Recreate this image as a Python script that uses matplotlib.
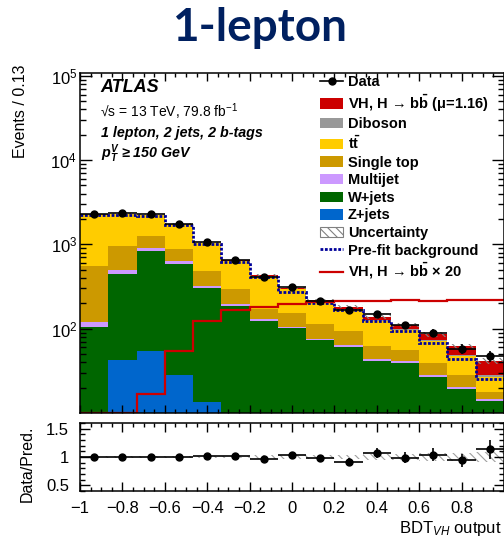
import numpy as np
import matplotlib
matplotlib.use("Agg")
import matplotlib.pyplot as plt
from matplotlib.patches import Patch
from matplotlib.lines import Line2D
from matplotlib.ticker import (MultipleLocator, FixedLocator, FixedFormatter, LogLocator,
                               NullFormatter, LogFormatterSciNotation)

plt.rcParams['font.family'] = ['Liberation Sans', 'DejaVu Sans']
plt.rcParams['mathtext.fontset'] = 'custom'
plt.rcParams['mathtext.rm'] = 'Liberation Sans'
plt.rcParams['mathtext.it'] = 'Liberation Sans:italic'
plt.rcParams['mathtext.bf'] = 'Liberation Sans:bold'
plt.rcParams['mathtext.sf'] = 'Liberation Sans:bold:italic'
plt.rcParams['hatch.linewidth'] = 0.8

# BDT_VH output binning: 15 bins between -1 and 1
edges = np.linspace(-1, 1, 16)

# Post-fit yields per bin
zjets = [4, 42, 55, 28, 13.5, 6, 4, 3, 2.5, 2, 1.5, 1.2, 1.0, 0.8, 0.6]
wjets = [102, 406, 777, 550, 292, 178, 118, 98, 70, 59, 40, 38, 26, 18.7, 13.4]
multijet = [13, 50, 70, 50, 17, 11, 7, 5, 4, 3, 2, 2.5, 1.2, 0.9, 0.7]
singletop = [443, 456, 343, 243, 155, 102, 42, 46, 37, 31, 19, 14, 11, 8, 3]
ttbar = [1713, 1362, 1008, 891, 560, 335, 245, 140, 90, 72, 61, 40, 32, 18.6, 9.3]
diboson = [3, 4, 5, 5, 5, 4, 4, 4, 4, 4, 3, 3, 2.5, 2, 1.5]
vh = [0.2, 0.4, 1.0, 3.2, 7.2, 9.6, 10.6, 11.4, 12.1, 12.2, 12.5, 12.7, 12.5, 12.8, 12.9]

data = [2280, 2335, 2270, 1765, 1065, 662, 415, 316, 214, 166, 150, 110, 90, 58, 47]
prefit_bkg = [2240, 2250, 2150, 1720, 1025, 620, 410, 272, 202, 166, 123, 93, 68, 44, 25]
vh_x20 = [4, 7, 17, 55, 124, 166, 183, 197, 208, 211, 216, 219, 216, 221, 222]
rel_unc = [0.02, 0.02, 0.02, 0.02, 0.02, 0.025, 0.03, 0.03, 0.035, 0.04, 0.05, 0.06, 0.065, 0.07, 0.08]

x_ticks = [-1, -0.8, -0.6, -0.4, -0.2, 0, 0.2, 0.4, 0.6, 0.8, 1]
x_ticklabels = ['\u22121', '\u22120.8', '\u22120.6', '\u22120.4', '\u22120.2', '0', '0.2', '0.4', '0.6', '0.8', '']
y_ticks = [1e2, 1e3, 1e4, 1e5]
r_ticks = [0.5, 1, 1.5]
r_ticklabels = ['0.5', '1', '1.5']

c_vh = '#cc0000'
c_db = '#999999'
c_tt = '#ffcc00'
c_st = '#cc9900'
c_mj = '#cc99ff'
c_wj = '#006600'
c_zj = '#0066cc'

W, H = 504, 540


def box(l, t, r, b):
    return [l / W, 1 - b / H, (r - l) / W, (b - t) / H]


fig = plt.figure(figsize=(W / 100, H / 100), dpi=100)
ax = fig.add_axes(box(80, 73, 504, 413))
rax = fig.add_axes(box(80, 423, 504, 491))

width = np.diff(edges)
centers = edges[:-1] + width / 2
ylo, yhi = 10, 1.08e5

ax.set_yscale('log')
ax.set_xlim(-1, 1)
ax.set_ylim(ylo, yhi)

# stacked histogram
stack = [(zjets, c_zj), (wjets, c_wj), (multijet, c_mj), (singletop, c_st),
         (ttbar, c_tt), (diboson, c_db), (vh, c_vh)]
bottom = np.zeros(len(centers))
for vals, col in stack:
    vals = np.asarray(vals, dtype=float)
    ax.bar(edges[:-1], vals, width=width, bottom=bottom, align='edge',
           color=col, linewidth=0)
    bottom = bottom + vals
total = bottom
unc = np.asarray(rel_unc)

ax.bar(edges[:-1], 2 * total * unc, width=width, bottom=total * (1 - unc), align='edge',
       facecolor='none', edgecolor='#808080', hatch='\\\\\\\\', linewidth=0)

ax.stairs(prefit_bkg, edges, baseline=None, color='#000099', lw=2.0, ls=(0, (1, 0.6)))
ax.stairs(np.clip(vh_x20, ylo, None), edges, baseline=None, color=c_vh, lw=1.6)

data = np.asarray(data, dtype=float)
ax.errorbar(centers, data, xerr=width / 2, yerr=np.sqrt(data), fmt='o', color='k',
            ms=5, lw=1.2, capsize=0)

ax.xaxis.set_major_locator(MultipleLocator(0.2))
ax.xaxis.set_minor_locator(MultipleLocator(0.05))
ax.yaxis.set_major_locator(FixedLocator(y_ticks))
ax.yaxis.set_major_formatter(LogFormatterSciNotation())
ax.yaxis.set_minor_locator(LogLocator(base=10, subs=np.arange(2, 10)))
ax.yaxis.set_minor_formatter(NullFormatter())
ax.tick_params(which='both', direction='in', top=True, right=True, labelbottom=False,
               labelsize=12, width=1)
ax.tick_params(axis='y', which='major', length=8.6, pad=2)
ax.tick_params(axis='y', which='minor', length=4.3)
ax.tick_params(axis='x', which='major', length=6)
ax.tick_params(axis='x', which='minor', length=3)

# ratio panel
rax.set_xlim(-1, 1)
rax.set_ylim(0.4, 1.6)
rax.bar(edges[:-1], 2 * unc, width=width, bottom=1 - unc, align='edge',
        facecolor='none', edgecolor='#a0a0a0', hatch='\\\\\\\\', linewidth=0)
rax.errorbar(centers, data / total, xerr=width / 2, yerr=np.sqrt(data) / total,
             fmt='o', color='k', ms=5, lw=1.2, capsize=0)
rax.xaxis.set_major_locator(FixedLocator(x_ticks))
rax.xaxis.set_major_formatter(FixedFormatter(x_ticklabels))
rax.xaxis.set_minor_locator(MultipleLocator(0.05))
rax.yaxis.set_major_locator(FixedLocator(r_ticks))
rax.yaxis.set_major_formatter(FixedFormatter(r_ticklabels))
rax.yaxis.set_minor_locator(MultipleLocator(0.1))
rax.tick_params(which='both', direction='in', top=True, right=True, labelsize=12, width=1)
rax.tick_params(axis='x', which='major', length=6.5, pad=7)
rax.tick_params(axis='x', which='minor', length=3)
rax.tick_params(axis='y', which='major', length=7, pad=8)
rax.tick_params(axis='y', which='minor', length=3.5)

for a in (ax, rax):
    for s in a.spines.values():
        s.set_linewidth(1.1)

# axis titles
fig.text(21 / W, 1 - 65 / H, 'Events / 0.13', rotation=90, ha='center', va='top', fontsize=11.5)
fig.text(27 / W, 1 - 464 / H, 'Data/Pred.', rotation=90, ha='center', va='center', fontsize=11.5)
fig.text(502 / W, 1 - 529 / H, r'BDT$_{VH}$ output', ha='right', va='center', fontsize=12)

# panel title
fig.text(260 / W, 1 - 28 / H, '1-lepton', ha='center', va='center', fontsize=33,
         fontweight='bold', family=['Lato', 'DejaVu Sans'], color='#002060')

# ATLAS labels
fig.text(100 / W, 1 - 88 / H, 'ATLAS', ha='left', va='center', fontsize=13,
         fontweight='bold', style='italic')
fig.text(100 / W, 1 - 112 / H, '\u221as = 13 TeV, 79.8 fb$^{-1}$', ha='left', va='center',
         fontsize=10)
fig.text(101 / W, 1 - 133 / H, '1 lepton, 2 jets, 2 b-tags', ha='left', va='center',
         fontsize=10.3, fontweight='bold', style='italic')
fig.text(101 / W, 1 - 154 / H, '$\\mathsf{p}_{\\mathsf{T}}^{\\mathsf{V}}$ \u2265 150 GeV',
         ha='left', va='center', fontsize=10.3, fontweight='bold', style='italic')

# legend
handles = [
    Line2D([], [], color='k', marker='o', ms=5, lw=1.2),
    Patch(facecolor=c_vh, edgecolor='none'),
    Patch(facecolor=c_db, edgecolor='none'),
    Patch(facecolor=c_tt, edgecolor='none'),
    Patch(facecolor=c_st, edgecolor='none'),
    Patch(facecolor=c_mj, edgecolor='none'),
    Patch(facecolor=c_wj, edgecolor='none'),
    Patch(facecolor=c_zj, edgecolor='none'),
    Patch(facecolor='white', edgecolor='#808080', hatch='\\\\\\\\', lw=0.8),
    Line2D([], [], color='#000099', lw=2.0, ls=(0, (1, 0.6))),
    Line2D([], [], color=c_vh, lw=1.6),
]
labels = [
    'Data',
    'VH, H \u2192 b$\\mathbf{\\bar{b}}$ (\u03bc=1.16)',
    'Diboson',
    't$\\mathbf{\\bar{t}}$',
    'Single top',
    'Multijet',
    'W+jets',
    'Z+jets',
    'Uncertainty',
    'Pre-fit background',
    'VH, H \u2192 b$\\mathbf{\\bar{b}}$ \u00d7 20',
]
ax.legend(handles, labels, loc='upper left', bbox_to_anchor=(320 / W, 1 - 75 / H),
          bbox_transform=fig.transFigure, frameon=False,
          prop=dict(weight='bold', size=10.5), handlelength=1.58, handleheight=0.72,
          handletextpad=0.34, labelspacing=0.245, borderpad=0, borderaxespad=0)

fig.savefig('out.png', dpi=100)
